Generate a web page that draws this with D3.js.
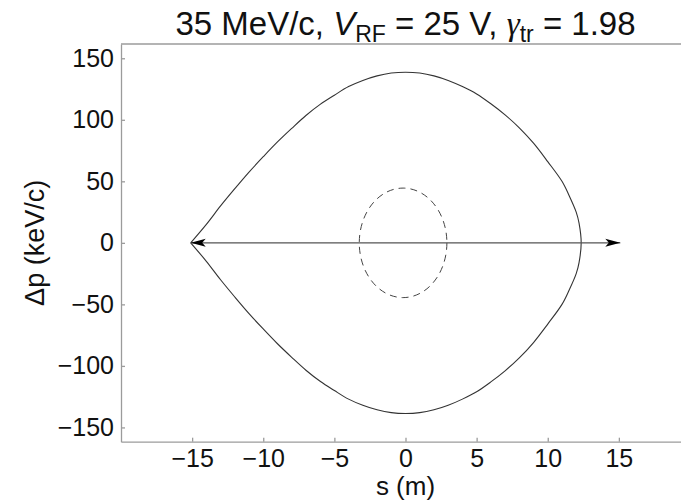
<!DOCTYPE html>
<html>
<head>
<meta charset="utf-8">
<script src="https://cdn.jsdelivr.net/npm/d3@7"></script>
<style>
    body { margin: 0; background: #fff; }
    svg { display: block; font-family: "Liberation Sans", Arial, sans-serif; }
    .frame line, .frame path { stroke: #9b9b9b; stroke-width: 1.3; }
    .tick text { font-size: 25px; fill: #111; }
</style>
</head>
<body>
<svg id="chart" width="681" height="502"></svg>
<script>
/* phase-space bucket, s vs dp */

// separatrix (s in m, dp in keV/c)
const sepS = [-15.1, -14, -13, -12, -11, -10, -9, -8, -7, -6, -5, -4, -3, -2, -1, 0,
    1, 2, 3, 4, 5, 6, 7, 8, 9, 10, 11, 11.5, 12, 12.2, 12.35];
const sepUpper = [0, 15, 30, 44, 57.5, 70, 82, 93, 103.5, 112.5, 120, 127, 132, 135.7, 138, 138.7,
    138, 135.7, 132, 127, 121, 113, 104, 93.5, 81, 66, 50, 38.5, 25, 16, 0];
const sepLower = [0, -15, -30, -44, -57.5, -70, -82, -93, -103.5, -112.5, -120, -127, -132, -135.7, -138, -138.7,
    -138, -135.7, -132, -127, -121, -113, -104, -93.5, -81, -66, -50, -38.5, -25, -16, 0];

// dashed beam ellipse: centre and half-widths
const beamCenter = [-0.17, 0];
const beamRadii = [3.08, 44.5];

// arrow along dp = 0
const arrowS = [-15.1, 15.1];

const xTicks = [-15, -10, -5, 0, 5, 10, 15];
const yTicks = [-150, -100, -50, 0, 50, 100, 150];
const xDomain = [-20, 20];
const yDomain = [-161.6, 161.6];

const plotLeft = 121, plotRight = 690, plotTop = 44, plotBottom = 441.7;

const svg = d3.select("#chart");

const x = d3.scaleLinear().domain(xDomain).range([plotLeft, plotRight]);
const y = d3.scaleLinear().domain(yDomain).range([plotBottom, plotTop]);

// frame
const frame = svg.append("g").classed("frame", true);
frame.append("line").attr("x1", plotLeft).attr("x2", plotRight).attr("y1", plotTop).attr("y2", plotTop);
frame.append("line").attr("x1", plotRight).attr("x2", plotRight).attr("y1", plotTop).attr("y2", plotBottom);

frame.append("g")
    .attr("transform", `translate(0,${plotBottom})`)
    .call(d3.axisBottom(x).tickValues(xTicks).tickSizeInner(-4).tickSizeOuter(0).tickPadding(8));
frame.append("g")
    .attr("transform", `translate(${plotLeft},0)`)
    .call(d3.axisLeft(y).tickValues(yTicks).tickSizeInner(-4).tickSizeOuter(0).tickPadding(7));
frame.selectAll(".tick text").attr("font-family", null);
frame.selectAll(".domain").attr("stroke", "#9b9b9b");
frame.selectAll(".tick line").attr("stroke", "#9b9b9b").attr("stroke-width", 1);

// separatrix: upper half left->right, then lower half back to the cusp
const sepPts = sepS.map((s, i) => [s, sepUpper[i]])
    .concat(sepS.map((s, i) => [s, sepLower[i]]).reverse().slice(1));

svg.append("path")
    .datum(sepPts)
    .attr("fill", "none")
    .attr("stroke", "#333")
    .attr("stroke-width", 1.1)
    .attr("d", d3.line().x(d => x(d[0])).y(d => y(d[1])).curve(d3.curveCatmullRom.alpha(0.5)));

// dashed ellipse
svg.append("ellipse")
    .attr("cx", x(beamCenter[0]))
    .attr("cy", y(beamCenter[1]))
    .attr("rx", x(beamRadii[0]) - x(0))
    .attr("ry", y(0) - y(beamRadii[1]))
    .attr("fill", "none")
    .attr("stroke", "#444")
    .attr("stroke-width", 1)
    .attr("stroke-dasharray", "7,5");

// double arrow
svg.append("defs").append("marker")
    .attr("id", "head")
    .attr("viewBox", "-15 -5 16 10")
    .attr("refX", 0)
    .attr("refY", 0)
    .attr("markerUnits", "userSpaceOnUse")
    .attr("markerWidth", 16)
    .attr("markerHeight", 10)
    .attr("orient", "auto-start-reverse")
    .append("path")
    .attr("d", "M0,0L-15,-4L-11.5,0L-15,4Z")
    .attr("fill", "#000");

svg.append("line")
    .attr("x1", x(arrowS[0]))
    .attr("x2", x(arrowS[1]))
    .attr("y1", y(0))
    .attr("y2", y(0))
    .attr("stroke", "#555")
    .attr("stroke-width", 1.4)
    .attr("marker-start", "url(#head)")
    .attr("marker-end", "url(#head)");

// labels
svg.append("text")
    .attr("x", x(0))
    .attr("y", 495)
    .attr("text-anchor", "middle")
    .attr("font-size", 26)
    .attr("fill", "#111")
    .text("s (m)");

svg.append("text")
    .attr("transform", `translate(44,${y(0)}) rotate(-90)`)
    .attr("text-anchor", "middle")
    .attr("font-size", 27)
    .attr("fill", "#111")
    .text("Δp (keV/c)");

const title = svg.append("text")
    .attr("x", (plotLeft + plotRight) / 2)
    .attr("y", 35)
    .attr("text-anchor", "middle")
    .attr("font-size", 33)
    .attr("fill", "#111");
title.append("tspan").text("35 MeV/c, ");
title.append("tspan").attr("font-style", "italic").text("V");
title.append("tspan").attr("font-size", 23).attr("dy", 7).text("RF");
title.append("tspan").attr("dy", -7).text(" = 25 V, ");
title.append("tspan").attr("font-style", "italic").attr("font-family", "Liberation Serif, serif").text("γ");
title.append("tspan").attr("font-size", 23).attr("dy", 7).text("tr");
title.append("tspan").attr("dy", -7).text(" = 1.98");
</script>
</body>
</html>
